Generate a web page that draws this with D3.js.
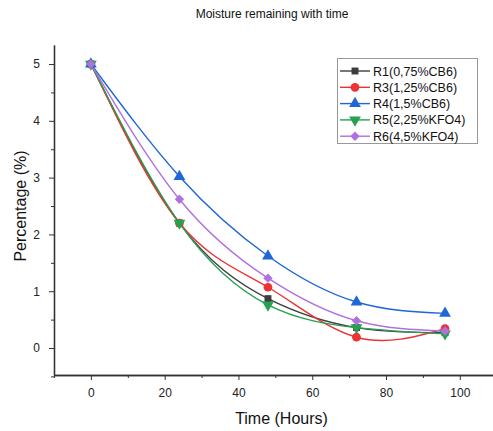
<!DOCTYPE html>
<html>
<head>
<meta charset="utf-8">
<script src="https://cdn.jsdelivr.net/npm/d3@7"></script>
<style>
  body { margin: 0; background: #fff; }
  svg { font-family: Arial, "Liberation Sans", sans-serif; }
  .axis path, .axis line { stroke: #333; }
  .axis text { fill: #222; font-size: 12px; }
</style>
</head>
<body>
<svg id="chart" width="493" height="431"></svg>
<script>
var hours = [0, 24, 48, 72, 96];
var seriesNames = ["R1(0,75%CB6)", "R3(1,25%CB6)", "R4(1,5%CB6)", "R5(2,25%KFO4)", "R6(4,5%KFO4)"];
var r1 = [5, 2.2, 0.87, 0.36, 0.27];
var r3 = [5, 2.2, 1.07, 0.19, 0.34];
var r4 = [5, 3.02, 1.62, 0.81, 0.61];
var r5 = [5, 2.2, 0.76, 0.36, 0.25];
var r6 = [5, 2.62, 1.23, 0.48, 0.3];
var xTicks = [0, 20, 40, 60, 80, 100];
var yTicks = [0, 1, 2, 3, 4, 5];

var colors = ["#3d3d3d", "#ee3131", "#1f66d6", "#27a050", "#b070e0"];
var symbols = ["square", "circle", "up", "down", "diamond"];

var svg = d3.select("#chart"),
  MARGINS = { top: 45, right: 0, bottom: 56, left: 54 },
  WIDTH = 493,
  HEIGHT = 431,
  xScale = d3.scaleLinear().domain([-10, 109]).range([MARGINS.left, WIDTH - MARGINS.right]),
  yScale = d3.scaleLinear().domain([-0.475, 5.335]).range([HEIGHT - MARGINS.bottom, MARGINS.top]);

var data = [r1, r3, r4, r5, r6].map(function (vals, i) {
  return { name: seriesNames[i], color: colors[i], symbol: symbols[i],
    values: vals.map(function (v, j) { return { x: hours[j], y: v }; }) };
});

// axes
var xAxis = d3.axisBottom(xScale).tickValues(xTicks).tickSize(5).tickSizeOuter(0).tickFormat(d3.format("d"));
var xMinor = d3.axisBottom(xScale).tickValues([-10, 10, 30, 50, 70, 90]).tickSize(3).tickFormat("").tickSizeOuter(0);
var yAxis = d3.axisLeft(yScale).tickValues(yTicks).tickSize(5).tickSizeOuter(0).tickFormat(d3.format("d"));
var yMinor = d3.axisLeft(yScale).tickValues([-0.5, 0.5, 1.5, 2.5, 3.5, 4.5]).tickSize(3).tickFormat("").tickSizeOuter(0);

svg.append("g").attr("class", "axis")
  .attr("transform", "translate(0," + (HEIGHT - MARGINS.bottom) + ")")
  .call(xMinor);
svg.append("g").attr("class", "axis")
  .attr("transform", "translate(0," + (HEIGHT - MARGINS.bottom) + ")")
  .call(xAxis)
  .selectAll("text").attr("dy", "1.2em");
svg.append("g").attr("class", "axis")
  .attr("transform", "translate(" + MARGINS.left + ",0)")
  .call(yMinor);
svg.append("g").attr("class", "axis")
  .attr("transform", "translate(" + MARGINS.left + ",0)")
  .call(yAxis)
  .selectAll("text").attr("dx", "-0.5em");
svg.selectAll(".axis path").attr("stroke-width", 1.3);

// titles
svg.append("text")
  .attr("x", 272).attr("y", 18)
  .style("text-anchor", "middle").style("font-size", "12px").style("fill", "#111")
  .text("Moisture remaining with time");

svg.append("text")
  .attr("x", (MARGINS.left + WIDTH) / 2 + 8).attr("y", 424)
  .style("text-anchor", "middle").style("font-size", "16px").style("fill", "#111")
  .text("Time (Hours)");

svg.append("text")
  .attr("transform", "rotate(-90)")
  .attr("x", -yScale(2.5)).attr("y", 26)
  .style("text-anchor", "middle").style("font-size", "16px").style("fill", "#111")
  .text("Percentage (%)");

var line = d3.line()
  .x(function (d) { return xScale(d.x); })
  .y(function (d) { return yScale(d.y); })
  .curve(d3.curveNatural);

// marker shapes: squares and triangles from d3.symbol, rotated where needed
function symbolPath(sym) {
  if (sym === "square") return d3.symbol().type(d3.symbolSquare).size(48)();
  if (sym === "circle") return d3.symbol().type(d3.symbolCircle).size(60)();
  if (sym === "diamond") return d3.symbol().type(d3.symbolSquare).size(44)();
  return d3.symbol().type(d3.symbolTriangle).size(60)();
}
function symbolTransform(sym, x, y) {
  var rot = sym === "down" ? " rotate(180)" : sym === "diamond" ? " rotate(45)" : "";
  return "translate(" + x + "," + y + ")" + rot;
}

data.forEach(function (s) {
  svg.append("path")
    .datum(s.values)
    .attr("fill", "none")
    .attr("stroke", s.color)
    .attr("stroke-width", 1.4)
    .attr("d", line);
});

data.forEach(function (s) {
  svg.selectAll(null)
    .data(s.values)
  .enter().append("path")
    .attr("d", symbolPath(s.symbol))
    .attr("transform", function (d) { return symbolTransform(s.symbol, xScale(d.x), yScale(d.y)); })
    .attr("fill", s.color);
});

// legend
var legend = svg.append("g");
legend.append("rect")
  .attr("x", 337.5).attr("y", 58.5).attr("width", 140).attr("height", 85)
  .attr("fill", "#fff").attr("stroke", "#999").attr("stroke-width", 1);

data.forEach(function (s, i) {
  var ly = 71 + i * 16.3;
  legend.append("line")
    .attr("x1", 340).attr("x2", 370).attr("y1", ly).attr("y2", ly)
    .attr("stroke", s.color).attr("stroke-width", 1.4);
  legend.append("path")
    .attr("d", symbolPath(s.symbol))
    .attr("transform", symbolTransform(s.symbol, 355, ly))
    .attr("fill", s.color);
  legend.append("text")
    .attr("x", 373).attr("y", ly + 4.5)
    .style("font-size", "12.5px").style("fill", "#111")
    .text(s.name);
});
</script>
</body>
</html>
